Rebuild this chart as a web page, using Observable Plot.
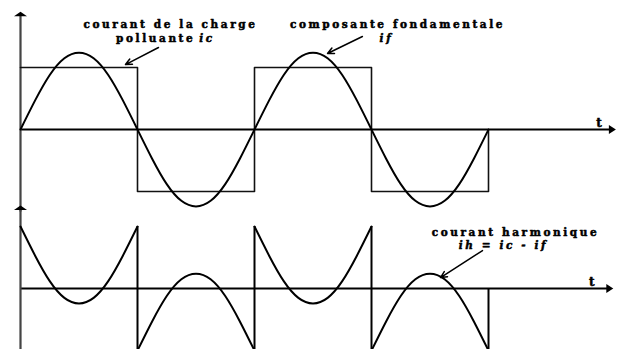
<!DOCTYPE html>
<html>
<head>
<meta charset="utf-8">
<script src="https://cdn.jsdelivr.net/npm/d3@7"></script>
<script src="https://cdn.jsdelivr.net/npm/@observablehq/plot@0.6"></script>
<style>
  html, body { margin: 0; padding: 0; background: #fff; overflow: hidden; }
  #chart svg text { letter-spacing: 2.6px; }
</style>
</head>
<body>
<div id="chart"></div>
<script>
// ---- data (angles in degrees, currents in units of the square-wave amplitude) ----
const angles = [0, 22.5, 45, 67.5, 90, 112.5, 135, 157.5, 180, 202.5, 225, 247.5, 270, 292.5, 315, 337.5,
                360, 382.5, 405, 427.5, 450, 472.5, 495, 517.5, 540, 562.5, 585, 607.5, 630, 652.5, 675, 697.5, 720];
const fundamental = [0, 0.47, 0.88, 1.15, 1.24, 1.15, 0.88, 0.47, 0, -0.47, -0.88, -1.15, -1.24, -1.15, -0.88, -0.47,
                     0, 0.47, 0.88, 1.15, 1.24, 1.15, 0.88, 0.47, 0, -0.47, -0.88, -1.15, -1.24, -1.15, -0.88, -0.47, 0];
const squareX = [0, 180, 180, 360, 360, 540, 540, 720, 720];
const squareY = [1, 1, -1, -1, 1, 1, -1, -1, 0];
const halfAngles = [0, 22.5, 45, 67.5, 90, 112.5, 135, 157.5, 180];
const harmonicPos = [1, 0.53, 0.12, -0.15, -0.24, -0.15, 0.12, 0.53, 1];
const harmonicNeg = [-1, -0.53, -0.12, 0.15, 0.24, 0.15, -0.12, -0.53, -1];
const halfStarts = [0, 180, 360, 540];
const jumpX = [180, 360, 540, 720];
const jumpFrom = [1, -1, 1, -1];
const jumpTo = [-1, 1, -1, 0];

// annotation texts
const topLabels = ["courant de la charge", "composante fondamentale"];
const bottomLabels = ["courant harmonique"];

// ---- layout constants ----
const OFF = -2.565;          // bottom panel baseline (y units)
const AXIS_END = 912;        // x extent of time axes

// build tables
const fundTable = angles.map((a, i) => ({x: a, y: fundamental[i]}));
const squareTable = squareX.map((a, i) => ({x: a, y: squareY[i]}));
const harmTable = [];
halfStarts.forEach((s, k) => {
  const vals = k % 2 === 0 ? harmonicPos : harmonicNeg;
  halfAngles.forEach((a, i) => harmTable.push({x: s + a, y: vals[i] + OFF, seg: k}));
});
const jumps = jumpX.map((x, i) => ({x, y1: jumpFrom[i] + OFF, y2: jumpTo[i] + OFF}));

// arrowhead symbols
const arrowHead = {
  draw(ctx) {
    ctx.moveTo(0, 0);
    ctx.lineTo(-7, -4.5);
    ctx.lineTo(-7, 4.5);
    ctx.closePath();
  }
};
const upHead = {
  draw(ctx) {
    ctx.moveTo(0, 0);
    ctx.lineTo(-6.5, 4.5);
    ctx.lineTo(6.5, 4.5);
    ctx.closePath();
  }
};

const font = {fontFamily: "DejaVu Serif", fontWeight: "bold", fontSize: 10.5, fill: "#000", stroke: "#000", strokeWidth: 0.5};

const chart = Plot.plot({
  width: 619,
  height: 349,
  marginTop: 0, marginBottom: 0, marginLeft: 0, marginRight: 0,
  x: {domain: [0, 720], range: [20, 488], axis: null},
  y: {domain: [-3.548, 2.081], range: [349, 0], axis: null},
  marks: [
    // axes
    Plot.ruleY([0], {x1: 0, x2: AXIS_END, stroke: "#000", strokeWidth: 2}),
    Plot.ruleY([OFF], {x1: 0, x2: AXIS_END - 4, stroke: "#000", strokeWidth: 2}),
    Plot.ruleX([0], {y1: -1.33, y2: 1.85, stroke: "#444", strokeWidth: 2.2}),
    Plot.ruleX([0], {y1: -3.6, y2: OFF + 1.3, stroke: "#444", strokeWidth: 2.2}),
    Plot.dot([{x: AXIS_END + 4, y: 0}, {x: AXIS_END, y: OFF}], {x: "x", y: "y", symbol: arrowHead, fill: "#000", stroke: null}),
    Plot.dot([{x: 0, y: 1.9}, {x: 0, y: OFF + 1.34}], {x: "x", y: "y", symbol: upHead, fill: "#000", stroke: null}),
    Plot.text([{x: 892, y: 0.1}, {x: 881, y: OFF + 0.1}], {x: "x", y: "y", text: () => "t", ...font, fontSize: 12}),

    // top panel: square wave (load current) and fundamental
    Plot.line(squareTable, {x: "x", y: "y", stroke: "#111", strokeWidth: 1.6}),
    Plot.line(fundTable, {x: "x", y: "y", curve: "natural", stroke: "#000", strokeWidth: 2}),

    // bottom panel: harmonic current
    Plot.line(harmTable, {x: "x", y: "y", z: "seg", curve: "natural", stroke: "#000", strokeWidth: 2}),
    Plot.ruleX(jumps, {x: "x", y1: "y1", y2: "y2", stroke: "#000", strokeWidth: 2}),

    // annotations
    Plot.text([{x: 230.8, y: 1.684, t: topLabels[0]}, {x: 580, y: 1.684, t: topLabels[1]}], {x: "x", y: "y", text: "t", ...font}),
    Plot.text([{x: 269, y: 1.474}], {x: "x", y: "y", text: () => "polluante", textAnchor: "end", ...font}),
    Plot.text([{x: 275, y: 1.474}], {x: "x", y: "y", text: () => "ic", textAnchor: "start", fontStyle: "italic", ...font}),
    Plot.text([{x: 563, y: 1.474}], {x: "x", y: "y", text: () => "if", fontStyle: "italic", ...font}),
    Plot.text([{x: 761.5, y: OFF + 0.91, t: bottomLabels[0]}], {x: "x", y: "y", text: "t", ...font}),
    Plot.text([{x: 743, y: OFF + 0.70}], {x: "x", y: "y", text: () => "ih = ic - if", fontStyle: "italic", ...font}),

    Plot.arrow([
      {x1: 212.3, y1: 1.323, x2: 161.5, y2: 1.048},
      {x1: 526, y1: 1.5, x2: 472.3, y2: 1.226},
      {x1: 710.8, y1: OFF + 0.613, x2: 646.2, y2: OFF + 0.177}
    ], {x1: "x1", y1: "y1", x2: "x2", y2: "y2", stroke: "#000", strokeWidth: 1.5, headLength: 7, headAngle: 50})
  ]
});
document.getElementById("chart").append(chart);
</script>
</body>
</html>
